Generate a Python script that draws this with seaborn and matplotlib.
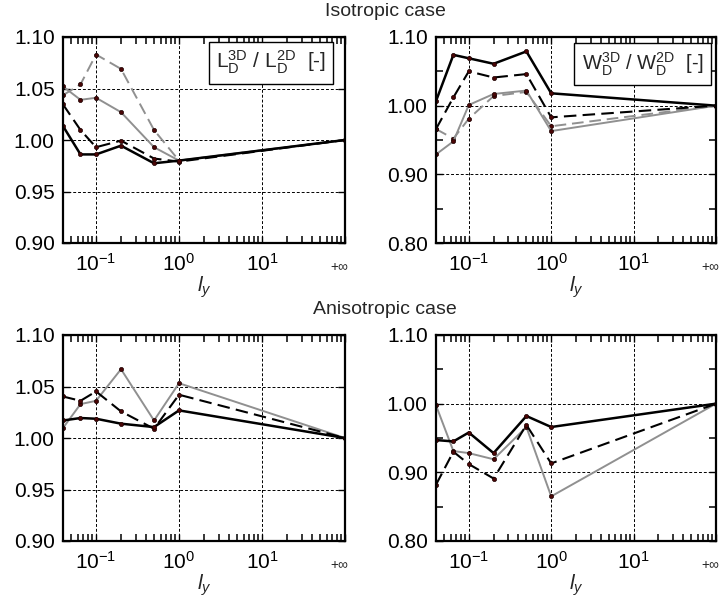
import matplotlib
matplotlib.use("Agg")
import matplotlib.pyplot as plt
import matplotlib.ticker as mticker
import seaborn as sns
import pandas as pd

# ---------------- data ----------------
# x positions of l_y ; the last value (100) stands for +inf on the axis
ly = [0.04, 0.065, 0.1, 0.2, 0.5, 1.0, 100.0]
x_tick_pos = [0.1, 1.0, 10.0, 100.0]
x_tick_labels = [r"$10^{-1}$", r"$10^{0}$", r"$10^{1}$", ""]
inf_label = "+∞"

# Isotropic case, L ratio
iso_L_black_solid = [1.0135, 0.986, 0.986, 0.9945, 0.9774, 0.980, 1.0]
iso_L_black_dash = [1.0345, 1.0097, 0.993, 0.9994, 0.982, 0.979, 1.0]
iso_L_gray_solid = [1.052, 1.039, 1.041, 1.027, 0.993, 0.980, 1.0]
iso_L_gray_dash = [1.0435, 1.054, 1.083, 1.069, 1.0097, 0.980, 1.0]

# Isotropic case, W ratio
iso_W_black_solid = [1.0067, 1.074, 1.069, 1.061, 1.079, 1.018, 1.0]
iso_W_black_dash = [0.966, 1.012, 1.050, 1.041, 1.046, 0.983, 1.0]
iso_W_gray_solid = [0.929, 0.948, 1.001, 1.017, 1.022, 0.963, 1.0]
iso_W_gray_dash = [0.966, 0.952, 0.981, 1.014, 1.020, 0.970, 1.0]

# Anisotropic case, L ratio
ani_L_black_solid = [1.017, 1.0194, 1.0187, 1.0139, 1.0106, 1.0268, 1.0]
ani_L_black_dash = [1.0403, 1.0361, 1.0452, 1.0258, 1.009, 1.042, 1.0]
ani_L_gray_solid = [1.0097, 1.0329, 1.0361, 1.0668, 1.017, 1.0532, 1.0]

# Anisotropic case, W ratio
ani_W_black_solid = [0.947, 0.945, 0.958, 0.928, 0.982, 0.966, 1.0]
ani_W_black_dash = [0.882, 0.930, 0.912, 0.891, 0.969, 0.913, 1.0]
ani_W_gray_solid = [0.9976, 0.931, 0.928, 0.919, 0.966, 0.865, 1.0]

titles = ["Isotropic case", "Anisotropic case"]
box_L = r"$\mathrm{L_D^{3D}\ /\ L_D^{2D}}$  [-]"
box_W = r"$\mathrm{W_D^{3D}\ /\ W_D^{2D}}$  [-]"
xlabel = r"$l_y$"

# ---------------- style ----------------
sns.set_style("ticks")
plt.rcParams["font.family"] = ["Liberation Sans", "DejaVu Sans"]
plt.rcParams["mathtext.fontset"] = "custom"
plt.rcParams["mathtext.rm"] = "Liberation Sans"
plt.rcParams["mathtext.it"] = "Liberation Sans:italic"
plt.rcParams["mathtext.bf"] = "Liberation Sans:bold"
plt.rcParams["axes.unicode_minus"] = True

BLACK = "#000000"
GRAY = "#909090"
MK = dict(marker="o", markersize=3.0, markerfacecolor="#4a0606",
          markeredgecolor="#1a0000", markeredgewidth=0.5)
DASH = (0, (6, 3))

fig = plt.figure(figsize=(7.2, 5.98), dpi=100)
W, H = 720.0, 598.0


def make_ax(x0, x1, y0, y1):
    return fig.add_axes([x0 / W, 1 - y1 / H, (x1 - x0) / W, (y1 - y0) / H])


ax1 = make_ax(63, 345, 37, 243)
ax2 = make_ax(436, 716, 37, 243)
ax3 = make_ax(63, 345, 335, 541)
ax4 = make_ax(436, 716, 335, 541)


def draw(ax, series):
    for vals, color, ls, lw in series:
        df = pd.DataFrame({"ly": ly, "r": vals})
        sns.lineplot(data=df, x="ly", y="r", ax=ax, color=color,
                     linestyle=ls, linewidth=lw, sort=False, **MK)


minor_x = [k * 10.0 ** e for e in (-2, -1, 0, 1) for k in range(2, 10)
           if 0.04 <= k * 10.0 ** e < 100]


def style(ax, kind):
    ax.set_xscale("log")
    ax.set_xlim(0.04, 100)
    if kind == "L":
        ax.set_ylim(0.90, 1.10)
        ax.yaxis.set_major_locator(mticker.MultipleLocator(0.05))
        ax.yaxis.set_minor_locator(mticker.NullLocator())
    else:
        ax.set_ylim(0.80, 1.10)
        ax.yaxis.set_major_locator(mticker.MultipleLocator(0.10))
        ax.yaxis.set_minor_locator(mticker.MultipleLocator(0.05))
    ax.yaxis.set_major_formatter(mticker.FormatStrFormatter("%.2f"))
    ax.set_xticks(x_tick_pos)
    ax.set_xticklabels(x_tick_labels)
    ax.xaxis.set_minor_locator(mticker.FixedLocator(minor_x))
    ax.xaxis.set_minor_formatter(mticker.NullFormatter())
    ax.tick_params(axis="both", which="major", direction="in", top=True, right=True,
                   bottom=True, left=True, labelsize=15, colors="black",
                   length=5, width=1.0, pad=6)
    ax.tick_params(axis="x", which="minor", direction="in", top=True, bottom=True,
                   length=5, width=1.1, color="black")
    ax.tick_params(axis="y", which="minor", direction="in", left=True, right=True,
                   length=5, width=1.1, color="black")
    ax.tick_params(axis="x", which="major", pad=7)
    ax.xaxis.grid(True, which="major", color="black", linestyle=(0, (3, 2)), linewidth=0.7)
    ax.yaxis.grid(True, which="major", color="black", linestyle=(0, (3, 2)), linewidth=0.7)
    for sp in ax.spines.values():
        sp.set_linewidth(1.6)
        sp.set_color("black")
    ax.set_xlabel(xlabel, fontsize=15, labelpad=0)
    ax.set_ylabel("")
    ax.annotate(inf_label, xy=(100, 0), xycoords=("data", "axes fraction"),
                xytext=(2, -17), textcoords="offset points", ha="right", va="center",
                fontsize=10, annotation_clip=False)


draw(ax1, [(iso_L_gray_dash, GRAY, DASH, 1.4),
           (iso_L_gray_solid, GRAY, "-", 1.4),
           (iso_L_black_dash, BLACK, DASH, 1.5),
           (iso_L_black_solid, BLACK, "-", 1.8)])
draw(ax2, [(iso_W_gray_dash, GRAY, DASH, 1.4),
           (iso_W_gray_solid, GRAY, "-", 1.4),
           (iso_W_black_dash, BLACK, DASH, 1.5),
           (iso_W_black_solid, BLACK, "-", 1.8)])
draw(ax3, [(ani_L_gray_solid, GRAY, "-", 1.4),
           (ani_L_black_dash, BLACK, DASH, 1.5),
           (ani_L_black_solid, BLACK, "-", 1.8)])
draw(ax4, [(ani_W_gray_solid, GRAY, "-", 1.4),
           (ani_W_black_dash, BLACK, DASH, 1.5),
           (ani_W_black_solid, BLACK, "-", 1.8)])

for ax, k in [(ax1, "L"), (ax2, "W"), (ax3, "L"), (ax4, "W")]:
    style(ax, k)

bbox = dict(boxstyle="square,pad=0.35", facecolor="white", edgecolor="black", linewidth=1.0)
ax1.text(0.7376, 0.876, box_L, transform=ax1.transAxes, ha="center", va="center",
         fontsize=15, bbox=bbox, zorder=10)
ax2.text(0.7375, 0.869, box_W, transform=ax2.transAxes, ha="center", va="center",
         fontsize=14.5, bbox=bbox, zorder=10)

fig.text(385 / W, 1 - 11 / H, titles[0], ha="center", va="center", fontsize=14)
fig.text(385 / W, 1 - 310 / H, titles[1], ha="center", va="center", fontsize=14)

fig.savefig("out.png", dpi=100)
